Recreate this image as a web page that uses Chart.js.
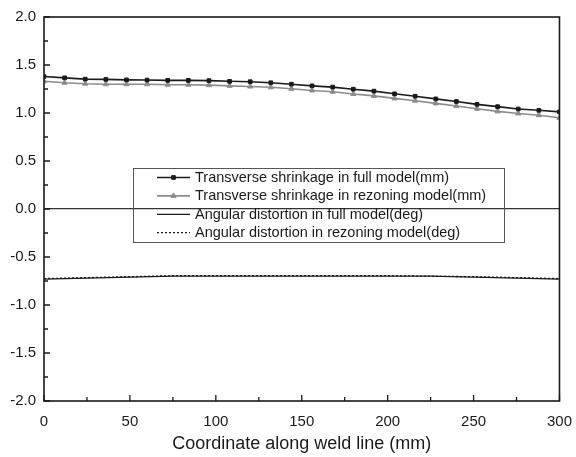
<!DOCTYPE html>
<html>
<head>
<meta charset="utf-8">
<script src="https://cdn.jsdelivr.net/npm/chart.js@4.4.1/dist/chart.umd.min.js"></script>
<style>
  html, body { margin: 0; padding: 0; background: #fff; }
  #wrap { width: 576px; height: 457px; }
</style>
</head>
<body>
<div id="wrap"><canvas id="chart" width="576" height="457"></canvas></div>
<script>
// Shrinkage sampled every 12 mm, angular distortion every 25 mm
const shrinkX = [0, 12, 24, 36, 48, 60, 72, 84, 96, 108, 120, 132, 144, 156, 168, 180, 192, 204, 216, 228, 240, 252, 264, 276, 288, 300];
const shrinkFull = [1.38, 1.366, 1.353, 1.35, 1.345, 1.343, 1.34, 1.34, 1.337, 1.33, 1.326, 1.315, 1.30, 1.283, 1.27, 1.248, 1.228, 1.20, 1.175, 1.147, 1.12, 1.09, 1.066, 1.042, 1.028, 1.012];
const shrinkRezone = [1.33, 1.315, 1.305, 1.30, 1.30, 1.30, 1.295, 1.295, 1.29, 1.283, 1.276, 1.268, 1.252, 1.235, 1.222, 1.198, 1.178, 1.152, 1.128, 1.10, 1.073, 1.044, 1.017, 0.995, 0.977, 0.95];

const angleX = [0, 25, 50, 75, 100, 125, 150, 175, 200, 225, 250, 275, 300];
const angleFull = [-0.73, -0.72, -0.71, -0.70, -0.70, -0.70, -0.70, -0.70, -0.70, -0.70, -0.71, -0.72, -0.73];
const angleRezone = [-0.725, -0.715, -0.705, -0.695, -0.695, -0.695, -0.695, -0.695, -0.695, -0.70, -0.705, -0.715, -0.725];

const legendLabels = [
    'Transverse shrinkage in full model(mm)',
    'Transverse shrinkage in rezoning model(mm)',
    'Angular distortion in full model(deg)',
    'Angular distortion in rezoning model(deg)'
];

const xTicksMinor = [25, 75, 125, 175, 225, 275];
const yTicksMinor = [1.75, 1.25, 0.75, 0.25, -0.25, -0.75, -1.25, -1.75];

const FONT = '"Liberation Sans", Arial, sans-serif';
const INK = '#1a1a1a';
const GREY = '#8c8c8c';

function pts(xs, ys) { return xs.map((x, i) => ({ x: x, y: ys[i] })); }

// frame, inward ticks and the boxed legend inside the plot
const framePlugin = {
    id: 'frame',
    afterDraw(chart) {
        const ctx = chart.ctx;
        const a = chart.chartArea;
        const xs = chart.scales.x, ys = chart.scales.y;
        ctx.save();
        ctx.strokeStyle = INK;
        ctx.lineWidth = 1.3;
        ctx.beginPath();
        xs.ticks.forEach(t => {
            const px = xs.getPixelForValue(t.value);
            ctx.moveTo(px, a.bottom); ctx.lineTo(px, a.bottom - 6);
        });
        xTicksMinor.forEach(v => {
            const px = xs.getPixelForValue(v);
            ctx.moveTo(px, a.bottom); ctx.lineTo(px, a.bottom - 4);
        });
        ys.ticks.forEach(t => {
            const py = ys.getPixelForValue(t.value);
            ctx.moveTo(a.left, py); ctx.lineTo(a.left + 6, py);
        });
        yTicksMinor.forEach(v => {
            const py = ys.getPixelForValue(v);
            ctx.moveTo(a.left, py); ctx.lineTo(a.left + 4, py);
        });
        ctx.stroke();

        ctx.lineWidth = 1.6;
        ctx.strokeRect(a.left, a.top, a.right - a.left, a.bottom - a.top);

        // legend
        const bx = 133, by = 168, bw = 371, bh = 74;
        ctx.lineWidth = 1;
        ctx.strokeStyle = '#555';
        ctx.strokeRect(bx + 0.5, by + 0.5, bw, bh);
        ctx.font = '14.5px ' + FONT;
        ctx.textBaseline = 'middle';
        ctx.fillStyle = INK;
        chart.data.datasets.forEach((ds, i) => {
            const y = by + 9.5 + i * 18.4;
            ctx.save();
            ctx.strokeStyle = ds.borderColor;
            ctx.lineWidth = ds.borderWidth;
            ctx.setLineDash(ds.borderDash || []);
            ctx.beginPath();
            ctx.moveTo(157, y); ctx.lineTo(190, y);
            ctx.stroke();
            ctx.restore();
            if (ds.pointRadius > 0) {
                ctx.save();
                ctx.fillStyle = ds.pointBackgroundColor;
                ctx.strokeStyle = ds.borderColor;
                ctx.lineWidth = 1;
                Chart.helpers.drawPoint(ctx, { pointStyle: ds.pointStyle, radius: ds.pointRadius, borderWidth: 1 }, 173.5, y);
                ctx.restore();
            }
            ctx.fillText(legendLabels[i], 195, y + 0.5);
        });
        ctx.restore();
    }
};

new Chart(document.getElementById('chart'), {
    type: 'line',
    data: {
        datasets: [
            { label: legendLabels[0], data: pts(shrinkX, shrinkFull), borderColor: INK, backgroundColor: INK,
              pointBackgroundColor: INK, borderWidth: 1.6, pointStyle: 'rect', pointRadius: 2.6, pointBorderWidth: 1 },
            { label: legendLabels[1], data: pts(shrinkX, shrinkRezone), borderColor: GREY, backgroundColor: GREY,
              pointBackgroundColor: GREY, borderWidth: 1.6, pointStyle: 'triangle', pointRadius: 3, pointBorderWidth: 1 },
            { label: legendLabels[2], data: pts(angleX, angleFull), borderColor: INK, borderWidth: 1.3, pointRadius: 0 },
            { label: legendLabels[3], data: pts(angleX, angleRezone), borderColor: INK, borderWidth: 1.3,
              borderDash: [2, 2], pointRadius: 0 }
        ]
    },
    options: {
        responsive: false,
        animation: false,
        events: [],
        layout: { padding: { top: 15, right: 13, left: 0, bottom: 0 } },
        plugins: { legend: { display: false }, tooltip: { enabled: false } },
        elements: { line: { tension: 0 } },
        scales: {
            x: {
                type: 'linear', min: 0, max: 300,
                grid: { display: false },
                border: { display: false },
                ticks: { stepSize: 50, color: INK, font: { family: FONT, size: 15 }, padding: 4, maxRotation: 0 },
                title: { display: true, text: 'Coordinate along weld line (mm)', color: INK,
                         font: { family: FONT, size: 18 }, padding: { top: 0, bottom: 2 } },
                afterFit(scale) { scale.height = 56; }
            },
            y: {
                min: -2, max: 2,
                grid: {
                    drawTicks: false,
                    color: c => (c.tick && c.tick.value === 0) ? '#333' : 'rgba(0,0,0,0)',
                    lineWidth: 1.3
                },
                border: { display: false },
                ticks: { stepSize: 0.5, color: INK, font: { family: FONT, size: 15 }, padding: 8,
                         callback: v => v.toFixed(1) },
                afterFit(scale) { scale.width = 44; }
            }
        }
    },
    plugins: [framePlugin]
});
</script>
</body>
</html>
